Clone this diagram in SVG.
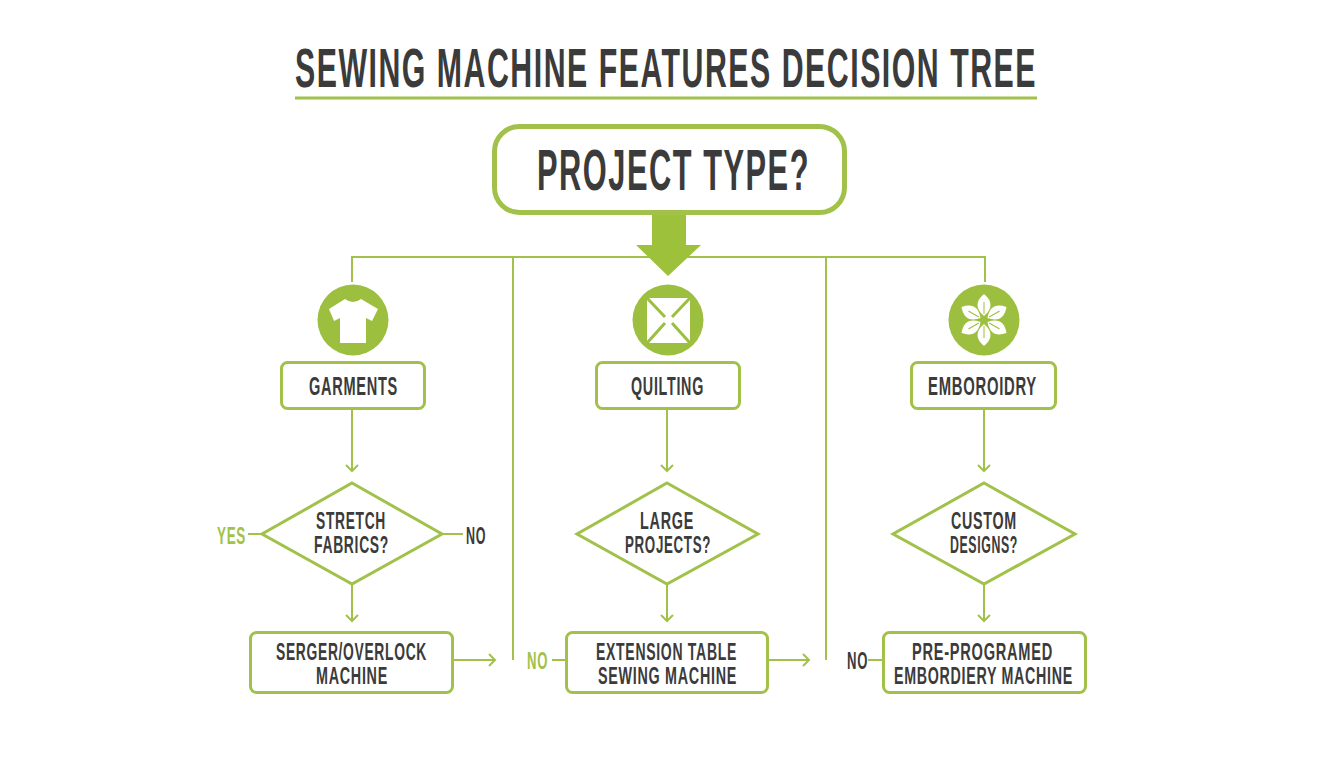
<svg xmlns="http://www.w3.org/2000/svg" width="1344" height="768" viewBox="0 0 1344 768">
<defs>
<style>
text{font-family:"Liberation Sans",Arial,sans-serif;font-weight:700;fill:#3b3b3b;letter-spacing:.05em}
.t{font-size:24px}.c{font-size:26px}.g{fill:#a2c24a}
.box{fill:#fff;stroke:#a1c14a;stroke-width:3}
.ln{fill:none;stroke:#a1c14a;stroke-width:2}
.ic{fill:#9dbf3f}
.w{fill:#fff}
.v{stroke:#9dbf3f;stroke-width:1;fill:none}
</style>
<marker id="a" markerWidth="16" markerHeight="16" refX="13" refY="7" orient="auto" markerUnits="userSpaceOnUse"><path d="M7 1L13 7L7 13" fill="none" stroke="#a1c14a" stroke-width="2"/></marker>
<g id="petal"><path class="w" d="M984 316Q971 305 984 294Q997 305 984 316Z"/><path class="v" d="M984 314V302"/></g>
</defs>
<rect width="1344" height="768" fill="#fff"/>
<g id="title">
<text x="295" y="87" font-size="55" textLength="742" lengthAdjust="spacingAndGlyphs">SEWING MACHINE FEATURES DECISION TREE</text>
<path d="M295 98H1037" stroke="#a1c14a" stroke-width="3"/>
</g>
<g id="connectors">
<path class="ln" d="M352 282V257H985V282M513 257V660M826 257V660"/>
<path class="ln" marker-end="url(#a)" d="M352 409V471"/>
<path class="ln" marker-end="url(#a)" d="M667 409V471"/>
<path class="ln" marker-end="url(#a)" d="M984 409V471"/>
<path class="ln" marker-end="url(#a)" d="M352 584V621"/>
<path class="ln" marker-end="url(#a)" d="M667 584V621"/>
<path class="ln" marker-end="url(#a)" d="M984 584V621"/>
<path class="ln" marker-end="url(#a)" d="M453 660H495"/>
<path class="ln" marker-end="url(#a)" d="M768 660H809"/>
<path class="ln" d="M248 534H262M442 534H463M552 660H566M868 660H883"/>
<path fill="#9dc13a" d="M652 213H686V245H701L668 276L636 245H652Z"/>
</g>
<g id="n-project"><rect x="494.500" y="126.500" width="350" height="86" rx="25" fill="#fff" stroke="#a1c14a" stroke-width="5"/>
<text x="537" y="190" font-size="57" textLength="273" lengthAdjust="spacingAndGlyphs">PROJECT TYPE?</text></g>

<g id="icon-garments"><circle class="ic" cx="353" cy="320" r="35.500"/>
<path class="w" d="M345 299Q353 305 361 299L378 309L372 321L366 318V343H340V318L334 321L329 309Z"/></g>
<g id="icon-quilting"><circle class="ic" cx="668" cy="320" r="35.500"/>
<rect class="w" x="647" y="298" width="43" height="45"/>
<path d="M647 298L665 317M690 298L672 317M647 343L665 323M690 343L672 323" fill="none" stroke="#9dbf3f" stroke-width="3"/></g>
<g id="icon-embroidery"><circle class="ic" cx="984" cy="320" r="35.500"/>
<use href="#petal"/>
<use href="#petal" transform="rotate(60 984 320)"/>
<use href="#petal" transform="rotate(120 984 320)"/>
<use href="#petal" transform="rotate(180 984 320)"/>
<use href="#petal" transform="rotate(240 984 320)"/>
<use href="#petal" transform="rotate(300 984 320)"/>
</g>

<g id="n-garments"><rect class="box" x="281.500" y="362.500" width="143" height="46" rx="6"/><text class="c" x="309" y="395" textLength="89" lengthAdjust="spacingAndGlyphs">GARMENTS</text></g>
<g id="n-quilting"><rect class="box" x="596.500" y="362.500" width="143" height="46" rx="6"/><text class="c" x="631" y="395" textLength="73" lengthAdjust="spacingAndGlyphs">QUILTING</text></g>
<g id="n-embroidery"><rect class="box" x="911.500" y="362.500" width="144" height="46" rx="6"/><text class="c" x="928" y="395" textLength="109" lengthAdjust="spacingAndGlyphs">EMBOROIDRY</text></g>

<g id="d-stretch"><path class="box" d="M352 483L442 534L352 584L262 534Z"/>
<text class="t" x="316" y="529" textLength="70" lengthAdjust="spacingAndGlyphs">STRETCH</text>
<text class="t" x="314" y="553" textLength="75" lengthAdjust="spacingAndGlyphs">FABRICS?</text></g>
<g id="d-large"><path class="box" d="M667 483L758 534L667 584L577 534Z"/>
<text class="t" x="640" y="529" textLength="54" lengthAdjust="spacingAndGlyphs">LARGE</text>
<text class="t" x="625" y="553" textLength="86" lengthAdjust="spacingAndGlyphs">PROJECTS?</text></g>
<g id="d-custom"><path class="box" d="M984 483L1075 534L984 584L893 534Z"/>
<text class="t" x="951" y="529" textLength="66" lengthAdjust="spacingAndGlyphs">CUSTOM</text>
<text class="t" x="950" y="553" textLength="68" lengthAdjust="spacingAndGlyphs">DESIGNS?</text></g>

<g id="l-yes"><text class="t g" x="217" y="544" textLength="29" lengthAdjust="spacingAndGlyphs">YES</text></g>
<g id="l-no1"><text class="t" x="466" y="544" textLength="20" lengthAdjust="spacingAndGlyphs">NO</text></g>
<g id="l-no2"><text class="t g" x="527" y="669" textLength="21" lengthAdjust="spacingAndGlyphs">NO</text></g>
<g id="l-no3"><text class="t" x="847" y="669" textLength="21" lengthAdjust="spacingAndGlyphs">NO</text></g>

<g id="n-serger"><rect class="box" x="250.500" y="632.500" width="202" height="60" rx="6"/>
<text class="t" x="276" y="660" textLength="151" lengthAdjust="spacingAndGlyphs">SERGER/OVERLOCK</text>
<text class="t" x="316" y="684" textLength="72" lengthAdjust="spacingAndGlyphs">MACHINE</text></g>
<g id="n-extension"><rect class="box" x="566.500" y="632.500" width="201" height="60" rx="6"/>
<text class="t" x="596" y="660" textLength="141" lengthAdjust="spacingAndGlyphs">EXTENSION TABLE</text>
<text class="t" x="598" y="684" textLength="139" lengthAdjust="spacingAndGlyphs">SEWING MACHINE</text></g>
<g id="n-preprog"><rect class="box" x="883.500" y="632.500" width="202" height="60" rx="6"/>
<text class="t" x="912" y="660" textLength="141" lengthAdjust="spacingAndGlyphs">PRE-PROGRAMED</text>
<text class="t" x="894" y="684" textLength="179" lengthAdjust="spacingAndGlyphs">EMBORDIERY MACHINE</text></g>
</svg>
